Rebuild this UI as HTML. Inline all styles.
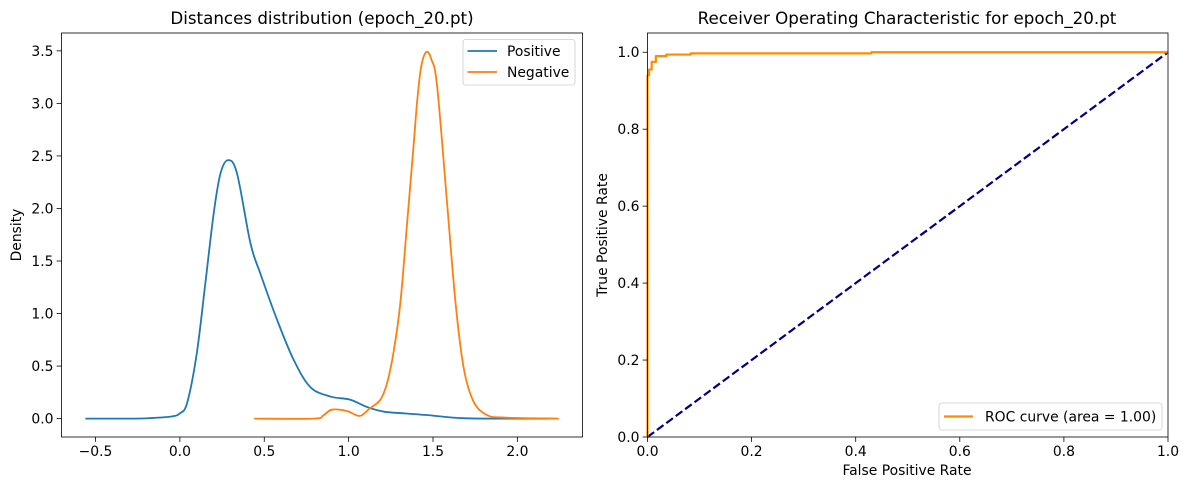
<!DOCTYPE html>
<html><head><meta charset="utf-8"><style>
body{margin:0;background:#fff}
svg text{font-family:"DejaVu Sans","Liberation Sans",sans-serif;fill:#000}
</style></head><body>
<svg id="fig" width="1189" height="490" viewBox="0 0 1189 490" xmlns="http://www.w3.org/2000/svg">
<rect width="1189" height="490" fill="#fff"/>
<g id="left"></g>
<g id="right"></g>
</svg>
<script>
// Left chart data
const posX=[-0.56,-0.3,-0.175,-0.05,0.0,0.043,0.10,0.151,0.20,0.24,0.286,0.339,0.418,0.477,0.576,0.674,0.773,0.892,1.01,1.11,1.21,1.33,1.46,1.60,1.70,1.85,2.18];
const posY=[0,0,0.005,0.02,0.05,0.15,0.62,1.29,1.95,2.33,2.46,2.33,1.67,1.38,0.94,0.56,0.30,0.21,0.18,0.11,0.066,0.05,0.034,0.012,0.003,0,0];
const negX=[0.44,0.793,0.85,0.90,0.99,1.065,1.12,1.188,1.228,1.267,1.307,1.346,1.386,1.406,1.43,1.461,1.49,1.524,1.583,1.633,1.682,1.741,1.82,1.92,2.245];
const negY=[0,0,0.03,0.085,0.072,0.025,0.09,0.18,0.34,0.64,1.11,1.85,2.62,3.02,3.35,3.49,3.42,3.17,2.06,1.11,0.48,0.16,0.034,0.01,0];
const leftXTicks=[-0.5,0.0,0.5,1.0,1.5,2.0];
const leftYTicks=[0.0,0.5,1.0,1.5,2.0,2.5,3.0,3.5];
// Right chart data
const rocFpr=[0,0,0.003,0.003,0.008,0.008,0.016,0.016,0.036,0.036,0.083,0.083,0.43,0.43,1.0];
const rocTpr=[0,0.94,0.94,0.955,0.955,0.975,0.975,0.99,0.99,0.994,0.994,0.997,0.997,1.0,1.0];
const diagX=[0,1];
const diagY=[0,1];
const rocTicks=[0.0,0.2,0.4,0.6,0.8,1.0];

const NS="http://www.w3.org/2000/svg";
function mk(parent,tag,attrs,txt){const e=document.createElementNS(NS,tag);for(const k in attrs)e.setAttribute(k,attrs[k]);if(txt!==undefined)e.textContent=txt;parent.appendChild(e);return e;}
function fmt(v){return v.toFixed(1);}

function axes(g,box,xlim,ylim){
  const sx=v=>box.x0+(v-xlim[0])/(xlim[1]-xlim[0])*(box.x1-box.x0);
  const sy=v=>box.y1-(v-ylim[0])/(ylim[1]-ylim[0])*(box.y1-box.y0);
  return {sx,sy};
}
function drawFrame(g,box,xt,yt,sx,sy){
  for(const t of xt){const x=sx(t);
    const tk=mk(g,'line',{x1:x,x2:x,y1:box.y1,y2:box.y1+4.9,stroke:'#000','stroke-width':0.8});
    
    
    const lb=mk(g,'text',{x:x,y:box.y1+19,'text-anchor':'middle','font-size':'13.9'},fmt(t).replace('-','\u2212'));
    
    
  }
  for(const t of yt){const y=sy(t);
    const tk=mk(g,'line',{x1:box.x0-4.9,x2:box.x0,y1:y,y2:y,stroke:'#000','stroke-width':0.8});
    
    
    const lb=mk(g,'text',{x:box.x0-8,y:y+5,'text-anchor':'end','font-size':'13.9'},fmt(t));
    
    
  }
  const fr=mk(g,'rect',{x:box.x0,y:box.y0,width:box.x1-box.x0,height:box.y1-box.y0,fill:'none',stroke:'#000','stroke-width':0.8});
  
  
}
function line(g,xs,ys,sx,sy,attrs){
  const d=xs.map((v,i)=>(i?'L':'M')+sx(v).toFixed(2)+','+sy(ys[i]).toFixed(2)).join('');
  return mk(g,'path',Object.assign({d:d,fill:'none','stroke-linejoin':'round'},attrs));
}
function smooth(g,xs,ys,sx,sy,attrs){
  const P=xs.map((v,i)=>[sx(v),sy(ys[i])]);
  let d='M'+P[0][0].toFixed(2)+','+P[0][1].toFixed(2);
  for(let i=0;i<P.length-1;i++){
    const p0=P[Math.max(0,i-1)],p1=P[i],p2=P[i+1],p3=P[Math.min(P.length-1,i+2)];
    const c1=[p1[0]+(p2[0]-p0[0])/6,p1[1]+(p2[1]-p0[1])/6];
    const c2=[p2[0]-(p3[0]-p1[0])/6,p2[1]-(p3[1]-p1[1])/6];
    d+='C'+c1.map(n=>n.toFixed(2)).join(',')+' '+c2.map(n=>n.toFixed(2)).join(',')+' '+p2.map(n=>n.toFixed(2)).join(',');
  }
  return mk(g,'path',Object.assign({d:d,fill:'none','stroke-linejoin':'round'},attrs));
}

// LEFT
const L=document.getElementById('left');
const lbox={x0:61.5,x1:582.5,y0:33,y1:437};
const la=axes(L,lbox,[-0.7016,2.3859],[-0.175,3.67]);
let p=smooth(L,posX,posY,la.sx,la.sy,{stroke:'#1f77b4','stroke-width':1.8});


p=smooth(L,negX,negY,la.sx,la.sy,{stroke:'#ff7f0e','stroke-width':1.8});


drawFrame(L,lbox,leftXTicks,leftYTicks,la.sx,la.sy);
let t=mk(L,'text',{x:322,y:24,'text-anchor':'middle','font-size':'16.7'},'Distances distribution (epoch_20.pt)');


t=mk(L,'text',{x:0,y:0,'text-anchor':'middle','font-size':'13.9',transform:'translate(21,235) rotate(-90)'},'Density');


// legend
const lg=mk(L,'g',{});


mk(lg,'rect',{x:463,y:39.5,width:112,height:45.5,rx:2.5,fill:'#fff','fill-opacity':0.8,stroke:'#ccc','stroke-width':0.8});
let e=mk(lg,'line',{x1:467.5,x2:497,y1:51,y2:51,stroke:'#1f77b4','stroke-width':1.8});


mk(lg,'text',{x:507,y:56,'font-size':'13.9'},'Positive');
e=mk(lg,'line',{x1:467.5,x2:497,y1:72,y2:72,stroke:'#ff7f0e','stroke-width':1.8});


mk(lg,'text',{x:507,y:77,'font-size':'13.9'},'Negative');

// RIGHT
const R=document.getElementById('right');
const rbox={x0:647.5,x1:1168,y0:33,y1:437};
const ra=axes(R,rbox,[0,1],[0,1.05]);
p=line(R,diagX,diagY,ra.sx,ra.sy,{stroke:'#000080','stroke-width':2.2,'stroke-dasharray':'8.2,3.5'});


p=line(R,rocFpr,rocTpr,ra.sx,ra.sy,{stroke:'#ff8c00','stroke-width':2.2});


drawFrame(R,rbox,rocTicks,rocTicks,ra.sx,ra.sy);
t=mk(R,'text',{x:907,y:24,'text-anchor':'middle','font-size':'16.7'},'Receiver Operating Characteristic for epoch_20.pt');


t=mk(R,'text',{x:907,y:475,'text-anchor':'middle','font-size':'13.9'},'False Positive Rate');


t=mk(R,'text',{x:0,y:0,'text-anchor':'middle','font-size':'13.9',transform:'translate(607,235) rotate(-90)'},'True Positive Rate');


const rg=mk(R,'g',{});


mk(rg,'rect',{x:939,y:403,width:223,height:27,rx:2.5,fill:'#fff','fill-opacity':0.8,stroke:'#ccc','stroke-width':0.8});
e=mk(rg,'line',{x1:944,x2:973,y1:416.5,y2:416.5,stroke:'#ff8c00','stroke-width':2.2});


mk(rg,'text',{x:985,y:421.5,'font-size':'13.9'},'ROC curve (area = 1.00)');
</script>
</body></html>
